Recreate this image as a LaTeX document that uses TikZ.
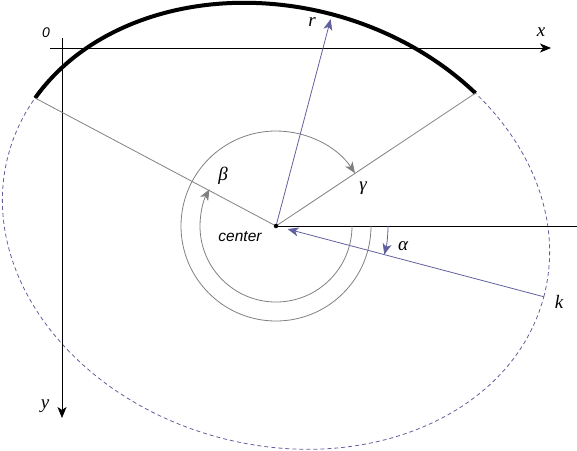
\documentclass[tikz,border=0pt]{standalone}
\usepackage{fontspec}
\setmainfont{Liberation Serif}
\setsansfont{Liberation Sans}
\usetikzlibrary{arrows.meta}
\definecolor{kblue}{RGB}{96,96,158}
\definecolor{egray}{RGB}{128,128,128}
\begin{document}
\begin{tikzpicture}[x=1pt,y=-1pt,
  lbl/.style={font=\fontsize{19}{19}\selectfont\itshape, inner sep=0pt},
  slbl/.style={font=\fontsize{14}{14}\selectfont\sffamily\itshape, inner sep=0pt},
  tip/.style={-{Stealth[length=11pt,width=9pt,inset=3pt]}},
  axisline/.style={line width=0.8pt, black, tip},
  ell/.style={kblue, line width=0.8pt, dash pattern=on 4pt off 3pt},
  thickarc/.style={black, line width=4pt},
  gline/.style={egray, line width=0.8pt},
  bline/.style={kblue, line width=0.8pt},
]
\useasboundingbox (0,0) rectangle (577,450);
\coordinate (C) at (276,226);
\coordinate (H) at (577,226);
\begin{scope}[shift={(C)}, rotate=-14.8]
  \draw[ell] (0,0) ellipse [x radius=277pt, y radius=219pt];
  \coordinate (A1) at (163.5:277pt and 219pt);
  \coordinate (A2) at (55:277pt and 219pt);
  \coordinate (K) at (0:277pt);
  \coordinate (R) at (90:214pt);
  \draw[thickarc] (A1) arc[start angle=163.5, end angle=55, x radius=277pt, y radius=219pt];
\end{scope}
% axes
\coordinate (xs) at (50,48);
\coordinate (xe) at (551,48);
\coordinate (ys) at (62,38);
\coordinate (ye) at (62,418);
\draw[axisline] (xs) -- (xe);
\draw[axisline] (ys) -- (ye);
% radial lines
\draw[gline] (C) -- (A1);
\draw[gline] (C) -- (A2);
\draw[black, line width=0.8pt] (C) -- (H);
\draw[bline, tip] (C) -- (R);
\draw[bline, tip, shorten >=12pt] (K) -- (C);
% angle arcs
\coordinate (Go) at (371,226);
\coordinate (Gi) at (352,226);
\coordinate (Ga) at (388,226);
\draw[gline, tip] (Go) arc[start angle=0, end angle=-326.2, radius=95pt];
\draw[gline, tip] (Gi) arc[start angle=0, end angle=-208.9, radius=76pt];
\draw[bline, tip] (Ga) arc[start angle=0, end angle=-14.8, radius=112pt];
% center dot
\node[circle, fill=black, inner sep=0pt, minimum size=4.5pt] (dot) at (C) {};
% labels
\node[slbl] (l0) at (46,33) {0};
\node[lbl] (lx) at (541,32) {x};
\node[lbl] (ly) at (45,406) {y};
\node[lbl] (lr) at (312,22) {r};
\node[lbl] (lk) at (559,302) {k};
\node[lbl] (la) at (403,246) {α};
\node[lbl] (lb) at (223,176) {β};
\node[lbl] (lg) at (363,188) {γ};
\node[slbl, font=\fontsize{15.5}{15.5}\selectfont\sffamily\itshape] (lc) at (240,237) {center};
\end{tikzpicture}
\end{document}
